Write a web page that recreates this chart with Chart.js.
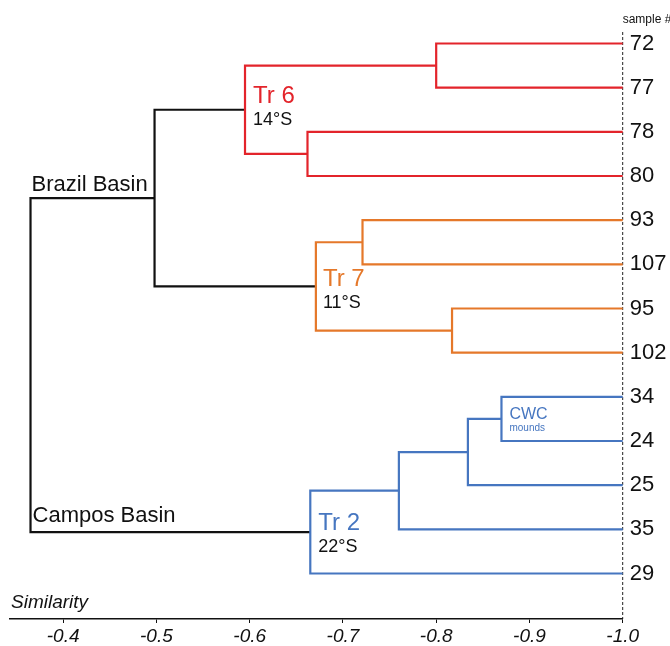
<!DOCTYPE html>
<html>
<head>
<meta charset="utf-8">
<script src="https://cdn.jsdelivr.net/npm/chart.js@4"></script>
<style>
  html, body { margin: 0; padding: 0; background: #fff; }
  #wrap { position: relative; width: 670px; height: 646px; }
</style>
</head>
<body>
<div id="wrap"><canvas id="chart"></canvas></div>
<script>
// ── Data ─────────────────────────────────────────────────────────
const samples = ["72", "77", "78", "80", "93", "107", "95", "102", "34", "24", "25", "35", "29"];

// linkage: node ids 0..12 are leaves, merges get ids 13, 14, ...
const mergeLeft   = [0, 2, 13, 4, 6, 16, 15, 8, 20, 21, 22, 19];
const mergeRight  = [1, 3, 14, 5, 7, 17, 18, 9, 10, 11, 12, 23];
const mergeHeight = [-0.800, -0.662, -0.595, -0.721, -0.817, -0.671, -0.498, -0.870, -0.834, -0.760, -0.665, -0.365];

const xTicks = [-0.4, -0.5, -0.6, -0.7, -0.8, -0.9, -1.0];
const leafHeight = -1.0;

// ── Styles ───────────────────────────────────────────────────────
const RED = "#e3242b", ORANGE = "#e5782a", BLUE = "#4676c0", BLACK = "#111";
const branchColor = [RED, RED, RED, ORANGE, ORANGE, ORANGE, BLACK, BLUE, BLUE, BLUE, BLUE, BLACK];
const FONT = "'Liberation Sans', Arial, Helvetica, sans-serif";

// build node positions
const nodeX = samples.map(() => leafHeight);
const nodeY = samples.map((s, i) => i);
mergeLeft.forEach((a, k) => {
  const b = mergeRight[k];
  nodeX.push(mergeHeight[k]);
  nodeY.push((nodeY[a] + nodeY[b]) / 2);
});

const datasets = mergeLeft.map((a, k) => {
  const b = mergeRight[k], h = mergeHeight[k];
  return {
    data: [
      { x: nodeX[a], y: nodeY[a] },
      { x: h, y: nodeY[a] },
      { x: h, y: nodeY[b] },
      { x: nodeX[b], y: nodeY[b] },
    ],
    borderColor: branchColor[k],
    borderWidth: 2.2,
    showLine: true,
    pointRadius: 0,
    tension: 0,
    clip: false,
  };
});

const Y_MIN = -0.26, Y_MAX = 13.03;
datasets.push({
  data: [{ x: leafHeight, y: Y_MIN }, { x: leafHeight, y: Y_MAX }],
  borderColor: "#222",
  borderWidth: 1,
  borderDash: [3, 2],
  showLine: true,
  pointRadius: 0,
  clip: false,
});

// text labels anchored to a node, with pixel offsets
const notes = [
  { text: "Tr 6",         node: 15, dx: 8, dy: -7,  size: 24, color: RED },
  { text: "14°S",         node: 15, dx: 8, dy: 15,  size: 18, color: BLACK },
  { text: "Tr 7",         node: 18, dx: 7, dy: 0,   size: 24, color: ORANGE },
  { text: "11°S",         node: 18, dx: 7, dy: 22,  size: 18, color: BLACK },
  { text: "Tr 2",         node: 23, dx: 8, dy: -2,  size: 24, color: BLUE },
  { text: "22°S",         node: 23, dx: 8, dy: 20,  size: 18, color: BLACK },
  { text: "CWC",          node: 20, dx: 8, dy: 0,   size: 16, color: BLUE },
  { text: "mounds",       node: 20, dx: 8, dy: 12,  size: 10, color: BLUE },
  { text: "Brazil Basin", node: 24, dx: 1, dy: -7,  size: 22, color: BLACK, yNode: 19 },
  { text: "Campos Basin", node: 24, dx: 2, dy: -10, size: 22, color: BLACK, yNode: 23 },
];

const notesPlugin = {
  id: "notes",
  afterDraw(chart) {
    const { ctx, scales: { x, y }, chartArea } = chart;
    ctx.save();
    ctx.textBaseline = "alphabetic";
    ctx.textAlign = "left";
    notes.forEach(n => {
      const px = x.getPixelForValue(nodeX[n.node]) + n.dx;
      const py = y.getPixelForValue(nodeY[n.yNode ?? n.node]) + n.dy;
      ctx.fillStyle = n.color;
      ctx.font = `${n.size}px ${FONT}`;
      ctx.fillText(n.text, px, py);
    });
    ctx.fillStyle = BLACK;
    ctx.font = `12px ${FONT}`;
    ctx.fillText("sample #", chartArea.right, chartArea.top - 9);
    ctx.font = `italic 19px ${FONT}`;
    ctx.fillText("Similarity", chartArea.left + 1, chartArea.bottom - 11);
    ctx.restore();
  },
};

new Chart(document.getElementById("chart"), {
  type: "scatter",
  data: { datasets },
  plugins: [notesPlugin],
  options: {
    responsive: true,
    maintainAspectRatio: false,
    animation: false,
    layout: { padding: { top: 32, left: 10, right: 0, bottom: 0 } },
    plugins: { legend: { display: false }, tooltip: { enabled: false } },
    scales: {
      x: {
        type: "linear",
        position: "bottom",
        reverse: true,
        min: -1.0,
        max: -0.343,
        afterBuildTicks: s => { s.ticks = xTicks.map(v => ({ value: v })); },
        afterFit: s => { s.height = 27; },
        ticks: {
          color: BLACK,
          padding: 2,
          font: { family: FONT, size: 19, style: "italic" },
          callback: v => v.toFixed(1),
        },
        grid: { drawOnChartArea: false, drawTicks: true, tickLength: 4, color: BLACK },
        border: { display: true, color: BLACK, width: 1.5 },
      },
      y: {
        type: "linear",
        position: "right",
        reverse: true,
        min: Y_MIN,
        max: Y_MAX,
        afterBuildTicks: s => { s.ticks = samples.map((t, i) => ({ value: i })); },
        afterFit: s => { s.width = 47.3; },
        ticks: {
          color: BLACK,
          padding: 7,
          font: { family: FONT, size: 22 },
          callback: v => samples[v],
        },
        grid: { display: false, drawTicks: false },
        border: { display: false },
      },
    },
  },
});
</script>
</body>
</html>
